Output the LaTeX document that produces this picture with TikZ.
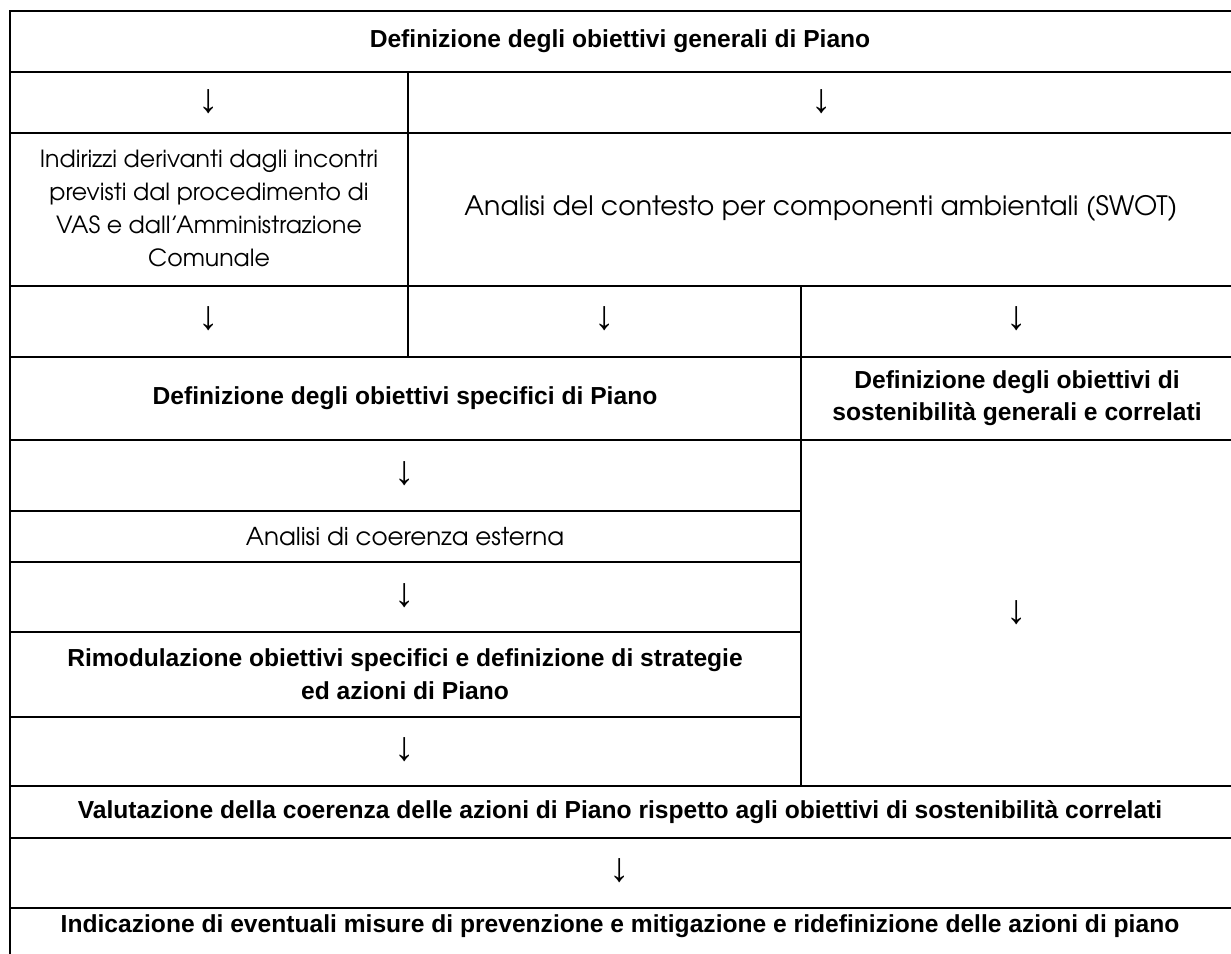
\documentclass[tikz,border=0pt]{standalone}
\usepackage{fontspec}
\setmainfont{Liberation Sans}
\newfontfamily\gothic{TeX Gyre Adventor}
\tikzset{
  gridline/.style={line width=1.4pt, line cap=rect},
  headcell/.style={font=\bfseries\fontsize{17.5}{23.2}\selectfont, align=center, inner sep=0pt},
  textcell/.style={font=\gothic\fontsize{17.5}{23.5}\selectfont, align=center, inner sep=0pt},
  arrowcell/.style={font=\fontsize{29}{29}\selectfont, inner sep=0pt}
}

\begin{document}
\begin{tikzpicture}[x=0.025cm, y=-0.025cm]
    \useasboundingbox (0,0) rectangle (1231,954);
    % columns and rows, in pixels of the page
    \def\xl{10} \def\xa{408} \def\xb{801} \def\xr{1236}

    % grid
    \draw[gridline] (\xl,11) -- (\xr,11);
    \draw[gridline] (\xl,72) -- (\xr,72);
    \draw[gridline] (\xl,133) -- (\xr,133);
    \draw[gridline] (\xl,286) -- (\xr,286);
    \draw[gridline] (\xl,357) -- (\xr,357);
    \draw[gridline] (\xl,440) -- (\xr,440);
    \draw[gridline] (\xl,511) -- (\xb,511);
    \draw[gridline] (\xl,562) -- (\xb,562);
    \draw[gridline] (\xl,632) -- (\xb,632);
    \draw[gridline] (\xl,717) -- (\xb,717);
    \draw[gridline] (\xl,786) -- (\xr,786);
    \draw[gridline] (\xl,838) -- (\xr,838);
    \draw[gridline] (\xl,908) -- (\xr,908);
    \draw[gridline] (\xl,11) -- (\xl,970);
    \draw[gridline] (\xa,72) -- (\xa,357);
    \draw[gridline] (\xb,286) -- (\xb,786);

    % cells
    \node[headcell] (obgen) at (620,41) {Definizione degli obiettivi generali di Piano};
    \node[arrowcell] (arrA) at (209,102) {↓};
    \node[arrowcell] (arrB) at (822,102) {↓};
    \node[textcell, font=\gothic\fontsize{16.8}{23.5}\selectfont] (indirizzi) at (209,208) {Indirizzi derivanti dagli incontri\\previsti dal procedimento di\\VAS e dall’Amministrazione\\Comunale};
    \node[textcell, font=\gothic\fontsize{19}{23.5}\selectfont] (contesto) at (821,208) {Analisi del contesto per componenti ambientali (SWOT)};
    \node[arrowcell] (arrC) at (209,319) {↓};
    \node[arrowcell] (arrD) at (605,319) {↓};
    \node[arrowcell] (arrE) at (1017,319) {↓};
    \node[headcell] (obspec) at (405,398) {Definizione degli obiettivi specifici di Piano};
    \node[headcell] (obsost) at (1017,398) {Definizione degli obiettivi di\\sostenibilità generali e correlati};
    \node[arrowcell] (arrF) at (405,474) {↓};
    \node[textcell] (coerenza) at (405,537) {Analisi di coerenza esterna};
    \node[arrowcell] (arrG) at (405,596) {↓};
    \node[headcell] (rimod) at (405,674) {Rimodulazione obiettivi specifici e definizione di strategie\\ed azioni di Piano};
    \node[arrowcell] (arrH) at (405,750) {↓};
    \node[arrowcell] (arrS) at (1017,613) {↓};
    \node[headcell] (valut) at (620,812) {Valutazione della coerenza delle azioni di Piano rispetto agli obiettivi di sostenibilità correlati};
    \node[arrowcell] (arrI) at (620,871) {↓};
    \node[headcell] (indic) at (620,926) {Indicazione di eventuali misure di prevenzione e mitigazione e ridefinizione delle azioni di piano};
\end{tikzpicture}
\end{document}
